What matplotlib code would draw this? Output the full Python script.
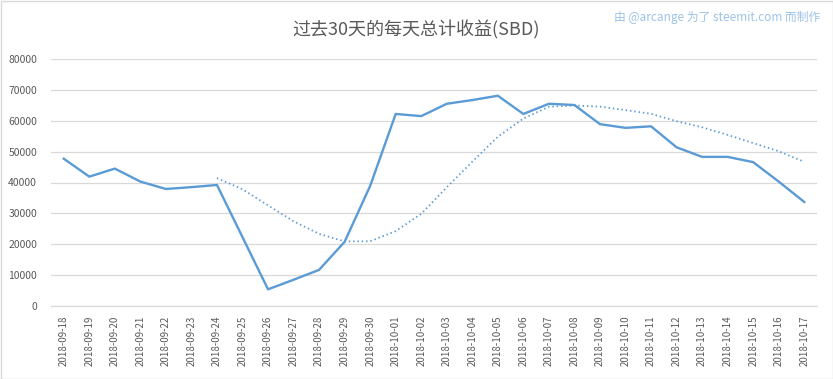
import matplotlib
matplotlib.use("Agg")
import matplotlib.pyplot as plt
import pandas as pd

plt.rcParams['font.family'] = ['Noto Sans CJK SC', 'DejaVu Sans']

dates = ["2018-09-18", "2018-09-19", "2018-09-20", "2018-09-21", "2018-09-22",
         "2018-09-23", "2018-09-24", "2018-09-25", "2018-09-26", "2018-09-27",
         "2018-09-28", "2018-09-29", "2018-09-30", "2018-10-01", "2018-10-02",
         "2018-10-03", "2018-10-04", "2018-10-05", "2018-10-06", "2018-10-07",
         "2018-10-08", "2018-10-09", "2018-10-10", "2018-10-11", "2018-10-12",
         "2018-10-13", "2018-10-14", "2018-10-15", "2018-10-16", "2018-10-17"]
sbd = [47700, 41900, 44500, 40300, 37900, 38500, 39200, 22300, 5400, 8500,
       11700, 20800, 38900, 62200, 61500, 65500, 66700, 68100, 62200, 65500,
       65100, 58900, 57700, 58200, 51400, 48300, 48300, 46600, 40300, 33700]
yticks = [0, 10000, 20000, 30000, 40000, 50000, 60000, 70000, 80000]
ma_window = 7

title = "过去30天的每天总计收益(SBD)"
credit = "由 @arcange 为了 steemit.com 而制作"

color = "#5B9BD5"
grid_c = "#D9D9D9"
text_c = "#595959"

fig = plt.figure(figsize=(8.33, 3.79), dpi=100)
ax = fig.add_axes([51/833, 1 - 306/379, 766/833, 247/379])

x = list(range(len(dates)))
ma = pd.Series(sbd).rolling(ma_window).mean()

ax.plot(x, sbd, color=color, linewidth=1.7, solid_joinstyle='round', zorder=3)
ax.plot(x, ma, color=color, linewidth=1.3, linestyle=(0, (0.8, 1.6)), zorder=2)

ax.set_xlim(-0.5, len(dates) - 0.5)
ax.set_ylim(0, 80000)
ax.set_yticks(yticks)
ax.set_yticklabels([str(v) for v in yticks])
ax.set_xticks(x)
ax.set_xticklabels(dates, rotation=90)
ax.grid(axis='y', color=grid_c, linewidth=0.9)
ax.set_axisbelow(True)
for s in ['left', 'right', 'top']:
    ax.spines[s].set_visible(False)
ax.spines['bottom'].set_color(grid_c)
ax.spines['bottom'].set_linewidth(0.9)
ax.tick_params(axis='both', length=0, colors=text_c, labelsize=7.5)
ax.tick_params(axis='x', pad=7, labelsize=7)
ax.tick_params(axis='y', pad=10)

fig.text(0.5, 1 - 30/379, title, ha='center', va='center', fontsize=13,
         color=text_c, fontweight='light')
fig.text(820/833, 1 - 17/379, credit, ha='right', va='center', fontsize=8.5,
         color="#9DC3E6", fontweight='light')

# light frame around the image
fig.patches.append(plt.Rectangle((0.5/833, 0.5/379), 1 - 1/833, 1 - 1/379,
                                 transform=fig.transFigure, fill=False,
                                 edgecolor="#D9D9D9", linewidth=1.0))

fig.savefig("out.png", dpi=100)
